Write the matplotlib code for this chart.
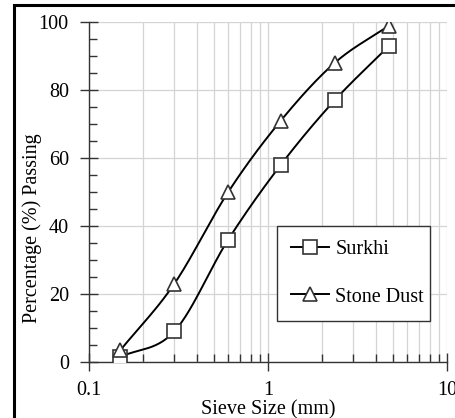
import numpy as np
import matplotlib
matplotlib.use("Agg")
import matplotlib.pyplot as plt
from matplotlib.ticker import FixedLocator, NullFormatter, MultipleLocator

sieve = [0.15, 0.3, 0.6, 1.18, 2.36, 4.75]
surkhi = [1.5, 9, 36, 58, 77, 93]
stone_dust = [3.5, 23, 50, 71, 88, 99]

plt.rcParams['font.family'] = ['Liberation Serif', 'DejaVu Serif']
plt.rcParams['font.size'] = 14.5

def smooth(x, y, n=30):
    # Catmull-Rom spline in log10(x) space (Excel-style smoothed line)
    lx = np.log10(np.asarray(x, float)); y = np.asarray(y, float)
    P = np.column_stack([lx, y])
    P = np.vstack([2 * P[0] - P[1], P, 2 * P[-1] - P[-2]])
    out = []
    for i in range(1, len(P) - 2):
        p0, p1, p2, p3 = P[i - 1], P[i], P[i + 1], P[i + 2]
        t = np.linspace(0, 1, n)[:, None]
        seg = 0.5 * ((2 * p1) + (-p0 + p2) * t + (2 * p0 - 5 * p1 + 4 * p2 - p3) * t ** 2
                     + (-p0 + 3 * p1 - 3 * p2 + p3) * t ** 3)
        out.append(seg)
    S = np.vstack(out)
    return 10 ** S[:, 0], S[:, 1]

fig = plt.figure(figsize=(4.56, 4.18), dpi=100)
ax = fig.add_axes([0.195, 0.134, 0.785, 0.813])

for xs, ys, m, lab in [(sieve, surkhi, 's', 'Surkhi'), (sieve, stone_dust, '^', 'Stone Dust')]:
    sx, sy = smooth(xs, ys)
    ax.plot(sx, sy, color='black', lw=1.4, zorder=3)
    ax.plot(xs, ys, linestyle='none', marker=m, markersize=9.5, mfc='white', mec='#333333',
            mew=1.2, zorder=4)
    ax.plot([], [], color='black', lw=1.4, marker=m, markersize=9.5, mfc='white', mec='#333333',
            mew=1.2, label=lab)

ax.set_xscale('log')
ax.set_xlim(0.1, 10)
ax.set_ylim(0, 100)
ax.yaxis.set_major_locator(MultipleLocator(20))
ax.yaxis.set_minor_locator(MultipleLocator(5))
ax.xaxis.set_major_locator(FixedLocator([0.1, 1, 10]))
ax.xaxis.set_minor_locator(FixedLocator([k * 10.0 ** e for e in (-1, 0) for k in range(2, 10)]))
ax.xaxis.set_minor_formatter(NullFormatter())
ax.set_xticklabels(['0.1', '1', '10'])

ax.grid(True, which='major', axis='y', color='#d4d4d4', lw=0.9)
ax.grid(True, which='both', axis='x', color='#d4d4d4', lw=0.9)
ax.set_axisbelow(True)

for s in ['top', 'right']:
    ax.spines[s].set_visible(False)
for s in ['left', 'bottom']:
    ax.spines[s].set_color('#333333')
    ax.spines[s].set_linewidth(1.0)
ax.tick_params(which='major', direction='inout', length=13, width=1.0, color='#333333')
ax.tick_params(axis='y', which='major', pad=8)
ax.tick_params(axis='x', which='major', pad=7)
ax.tick_params(which='minor', direction='in', length=6, width=1.0, color='#333333')

ax.set_xlabel('Sieve Size (mm)', labelpad=0)
ax.set_ylabel('Percentage (%) Passing')
ax.yaxis.set_label_coords(-0.13, 0.394)

leg = ax.legend(loc='upper left', bbox_to_anchor=(0.525, 0.40, 0.427, 0.0), mode='expand',
                borderaxespad=0, frameon=True, fancybox=False, edgecolor='#333333',
                framealpha=1, handlelength=1.9, borderpad=0.7, labelspacing=1.4,
                handletextpad=0.3)
leg.get_frame().set_linewidth(1.0)

# figure frame
fig.patches.append(plt.Rectangle((0.030, -0.05), 1.1, 1.038, transform=fig.transFigure,
                                 fill=False, edgecolor='black', lw=2.2))

fig.savefig('out.png', dpi=100)
